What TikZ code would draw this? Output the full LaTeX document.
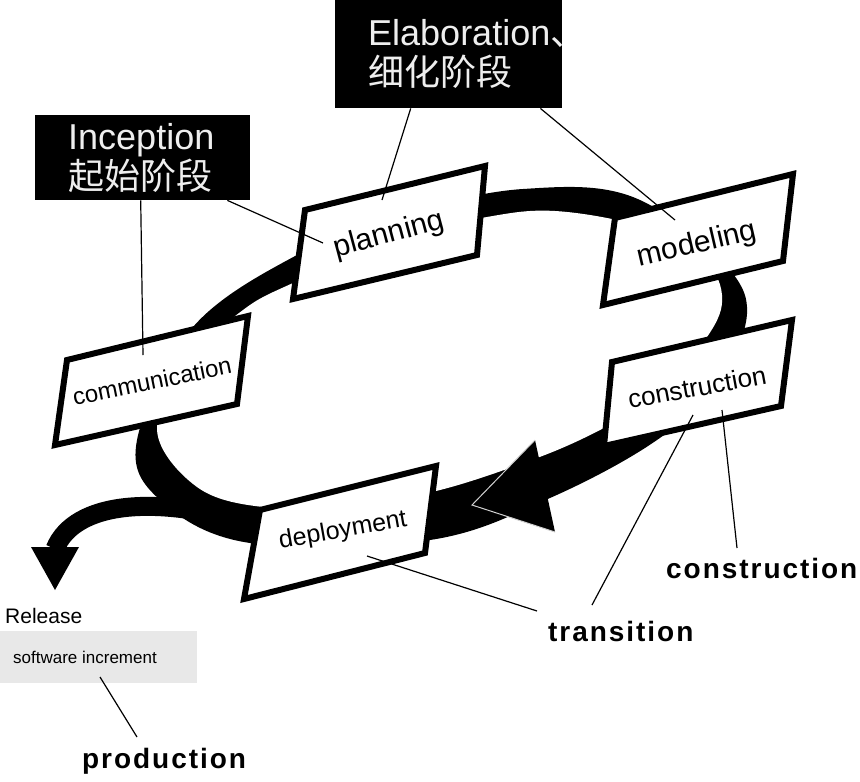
\documentclass[tikz,border=0pt]{standalone}
\usepackage{fontspec}
\setmainfont{Liberation Sans}
\newfontfamily\cjk{Noto Sans CJK SC}
\newfontfamily\spacedsans[LetterSpace=7]{Liberation Sans}
\usetikzlibrary{positioning}
\definecolor{boxgrey}{HTML}{E8E8E8}
\definecolor{labelwhite}{HTML}{EEEEEE}
\definecolor{tipgrey}{HTML}{D0D0D0}

\begin{document}
\begin{tikzpicture}[x=1pt, y=-1pt,
  phase/.style={draw=black, line width=6pt, fill=white, line join=miter},
  phasetext/.style={inner sep=0pt, font=\fontsize{#1}{#1}\selectfont},
  blackbox/.style={fill=black, inner sep=0pt, anchor=north west},
  boxtext/.style={text=labelwhite, inner sep=0pt, align=left, font=\fontsize{36}{40}\selectfont},
  stagetext/.style={inner sep=0pt, anchor=base west, font=\spacedsans\bfseries\fontsize{28}{30}\selectfont},
  leader/.style={line width=1.2pt}]
\useasboundingbox (0,0) rectangle (860,782);
\fill[black] plot[smooth cycle, tension=0.6] coordinates {(137,440) (193,327) (297,255) (400,215) (523,189) (640,200) (743,290) (720,380) (657,440) (550,498) (430,540) (250,543) (160,500)};
\fill[white] plot[smooth cycle, tension=0.6] coordinates {(157,430) (190,360) (243,310) (293,283) (400,238) (487,217) (555,211) (640,226) (700,255) (722,295) (707,337) (650,400) (600,430) (537,458) (440,490) (350,505) (263,507) (197,487)};
\fill[black] (535,440) -- (472,505) -- (555,532) -- cycle;
\draw[tipgrey, line width=1pt] (535,440) -- (472,505) -- (555,532);
\coordinate (relstart) at (255,525);
\coordinate (relend) at (55,549);
\draw[line width=19pt] (relstart) .. controls (160,495) and (75,500) .. (relend);
\fill[black] (31,547) -- (79,547) -- (55,590) -- cycle;

\draw[phase] (305,210) -- (485,166) -- (477,255) -- (293,299) -- cycle;
\node[phasetext=30, rotate=15] (planning) at (389,235) {planning};
\draw[phase] (615,218) -- (793,174) -- (783,261) -- (603,305) -- cycle;
\node[phasetext=30, rotate=13] (modeling) at (697,245) {modeling};
\draw[phase] (67,360) -- (248,316) -- (237,404) -- (55,445) -- cycle;
\node[phasetext=24, rotate=11.5] (communication) at (152,381) {communication};
\draw[phase] (612,362) -- (792,320) -- (781,406) -- (604,446) -- cycle;
\node[phasetext=26, rotate=10.5] (construction) at (697,387) {construction};
\draw[phase] (260,510) -- (436,466) -- (425,553) -- (244,599) -- cycle;
\node[phasetext=25, rotate=10] (deployment) at (343,531) {deployment};

\node[blackbox, minimum width=215pt, minimum height=85pt] (incep) at (35,115) {};
\node[boxtext, anchor=west, right=33pt of incep.west] (inceptext) {Inception\\{\cjk 起始阶段}};
\node[blackbox, minimum width=227pt, minimum height=108pt] (elab) at (335,0) {};
\node[boxtext, anchor=west, right=33pt of elab.west] (elabtext) {Elaboration{\cjk 、}\\{\cjk 细化阶段}};

\node[inner sep=0pt, anchor=base west, font=\fontsize{21}{21}\selectfont] (release) at (5,623) {Release};
\node[fill=boxgrey, minimum width=197pt, minimum height=52pt, inner sep=0pt, anchor=north west] (incbox) at (0,631) {};
\node[inner sep=0pt, anchor=west, font=\fontsize{17}{17}\selectfont, right=13pt of incbox.west] (inctext) {software increment};

\node[stagetext] (constrlabel) at (666,578) {construction};
\node[stagetext] (translabel) at (548,641) {transition};
\node[stagetext] (prodlabel) at (82,768) {production};

\coordinate (commpin) at (143,355);
\coordinate (planpin) at (323,243);
\coordinate (planpintop) at (382,200);
\coordinate (modpin) at (675,220);
\coordinate (constrpin) at (722,410);
\coordinate (transpin) at (693,415);
\coordinate (deploypin) at (367,556);
\coordinate (constrend) at (737,548);
\coordinate (transend) at (592,605);
\coordinate (transend2) at (537,611);
\coordinate (incpin) at (100,677);
\coordinate (prodend) at (137,737);
\draw[leader] ([xshift=-2pt]incep.south) -- (commpin);
\draw[leader] ([xshift=-23pt]incep.south east) -- (planpin);
\draw[leader] ([xshift=-38pt]elab.south) -- (planpintop);
\draw[leader] ([xshift=-22pt]elab.south east) -- (modpin);
\draw[leader] (constrpin) -- (constrend);
\draw[leader] (transpin) -- (transend);
\draw[leader] (deploypin) -- (transend2);
\draw[leader] (incpin) -- (prodend);
\end{tikzpicture}
\end{document}
